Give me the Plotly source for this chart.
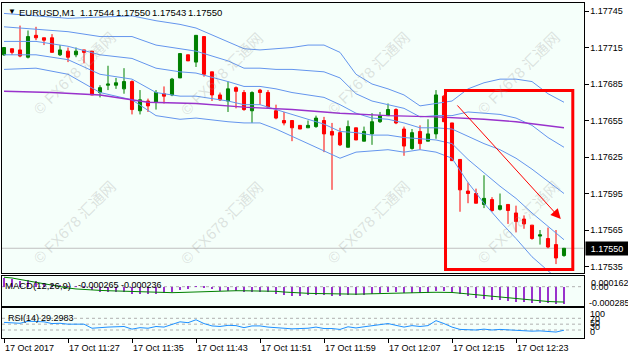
import plotly.graph_objects as go

# ---------------- data ----------------
idx = list(range(71))
open_ = [1.17709,1.17714,1.17713,1.17707,1.17725,1.17723,1.17723,1.17709,1.17712,1.17709,
         1.17713,1.17712,1.17678,1.17684,1.17684,1.17681,1.17687,1.17663,1.17671,1.17670,
         1.17677,1.17676,1.17690,1.17709,1.17703,1.17724,1.17695,1.17676,1.17671,1.17682,
         1.17678,1.17663,1.17680,1.17678,1.17663,1.17655,1.17655,1.17651,1.17649,1.17650,
         1.17655,1.17646,1.17645,1.17633,1.17649,1.17638,1.17644,1.17654,1.17659,1.17664,
         1.17648,1.17632,1.17646,1.17638,1.17644,1.17675,1.17653,1.17623,1.17597,1.17595,
         1.17586,1.17590,1.17582,1.17586,1.17579,1.17574,1.17569,1.17560,1.17558,1.17553,
         1.17544]
high = [1.17715,1.17714,1.17733,1.17729,1.17732,1.17723,1.17726,1.17717,1.17715,1.17715,
        1.17713,1.17712,1.17684,1.17700,1.17690,1.17698,1.17688,1.17680,1.17673,1.17680,
        1.17683,1.17690,1.17710,1.17709,1.17725,1.17724,1.17695,1.17678,1.17687,1.17683,
        1.17680,1.17679,1.17681,1.17680,1.17668,1.17662,1.17655,1.17651,1.17655,1.17659,
        1.17658,1.17653,1.17649,1.17655,1.17649,1.17650,1.17661,1.17662,1.17669,1.17665,
        1.17650,1.17648,1.17651,1.17656,1.17680,1.17676,1.17653,1.17623,1.17604,1.17599,
        1.17610,1.17592,1.17595,1.17586,1.17585,1.17577,1.17569,1.17565,1.17567,1.17565,
        1.17550]
low = [1.17708,1.17709,1.17707,1.17706,1.17721,1.17717,1.17711,1.17708,1.17703,1.17707,
       1.17702,1.17676,1.17674,1.17680,1.17681,1.17677,1.17660,1.17660,1.17662,1.17664,
       1.17669,1.17675,1.17690,1.17704,1.17699,1.17691,1.17671,1.17671,1.17662,1.17665,
       1.17663,1.17653,1.17668,1.17665,1.17656,1.17651,1.17638,1.17648,1.17649,1.17649,
       1.17629,1.17598,1.17634,1.17633,1.17639,1.17638,1.17635,1.17653,1.17659,1.17652,
       1.17626,1.17631,1.17631,1.17638,1.17640,1.17654,1.17622,1.17580,1.17587,1.17587,
       1.17583,1.17580,1.17581,1.17570,1.17563,1.17566,1.17557,1.17553,1.17550,1.17537,
       1.17543]
close = [1.17715,1.17711,1.17708,1.17724,1.17723,1.17721,1.17711,1.17713,1.17707,1.17712,
         1.17711,1.17676,1.17682,1.17685,1.17686,1.17687,1.17664,1.17672,1.17667,1.17678,
         1.17675,1.17689,1.17710,1.17704,1.17725,1.17693,1.17676,1.17672,1.17681,1.17679,
         1.17664,1.17678,1.17678,1.17666,1.17657,1.17653,1.17649,1.17648,1.17651,1.17657,
         1.17644,1.17643,1.17635,1.17650,1.17639,1.17646,1.17654,1.17659,1.17664,1.17653,
         1.17634,1.17645,1.17636,1.17644,1.17676,1.17654,1.17622,1.17598,1.17595,1.17587,
         1.17591,1.17581,1.17585,1.17581,1.17572,1.17570,1.17558,1.17561,1.17551,1.17542,
         1.17550]

# Bollinger bands (20) at selected bars
bb_idx = [0,4,8,12,16,19,22,24,28,30,32,34,36,38,40,42,44,46,48,50,52,54,56,58,60,62,64,66,68,70]
bb_up2 = [1.17743,1.17741,1.17739,1.17740,1.17741,1.17737,1.17734,1.17731,1.17720,1.17714,
          1.17713,1.17714,1.17715,1.17717,1.17717,1.17711,1.17693,1.17685,1.17681,1.17676,
          1.17667,1.17669,1.17671,1.17681,1.17686,1.17689,1.17689,1.17687,1.17677,1.17670]
bb_up1 = [1.17732,1.17730,1.17728,1.17724,1.17724,1.17717,1.17714,1.17712,1.17704,1.17698,
          1.17698,1.17697,1.17697,1.17696,1.17695,1.17690,1.17677,1.17671,1.17668,1.17665,
          1.17658,1.17659,1.17659,1.17662,1.17661,1.17660,1.17657,1.17651,1.17641,1.17633]
bb_mid = [1.17720,1.17720,1.17716,1.17709,1.17706,1.17698,1.17695,1.17694,1.17687,1.17683,
          1.17683,1.17681,1.17678,1.17676,1.17674,1.17668,1.17661,1.17657,1.17656,1.17653,
          1.17649,1.17649,1.17648,1.17642,1.17636,1.17631,1.17624,1.17615,1.17605,1.17595]
bb_lo1 = [1.17709,1.17709,1.17705,1.17693,1.17689,1.17678,1.17675,1.17675,1.17671,1.17668,
          1.17668,1.17664,1.17660,1.17656,1.17652,1.17646,1.17645,1.17643,1.17643,1.17641,
          1.17640,1.17639,1.17636,1.17623,1.17612,1.17601,1.17591,1.17579,1.17568,1.17557]
bb_lo2 = [1.17697,1.17698,1.17693,1.17678,1.17672,1.17659,1.17656,1.17657,1.17654,1.17653,
          1.17653,1.17648,1.17642,1.17636,1.17630,1.17624,1.17629,1.17630,1.17631,1.17629,
          1.17631,1.17629,1.17624,1.17604,1.17587,1.17572,1.17558,1.17543,1.17532,1.17520]

ma_idx = [0,6,12,18,24,30,36,42,48,54,60,64,70]
ma_val = [1.17679,1.17678,1.17676,1.17670,1.17669,1.17666,1.17664,1.17661,1.17659,1.17658,
          1.17656,1.17654,1.17649]

macd_main = [134,118,88,103,88,65,42,26,11,3,-5,-51,-74,-78,-82,-82,-112,-112,-112,-105,
             -97,-82,-43,-28,3,-12,-35,-58,-58,-58,-82,-74,-74,-82,-105,-120,-135,-135,-128,-120,
             -128,-135,-143,-128,-128,-120,-105,-89,-74,-74,-89,-97,-97,-97,-60,-62,-76,-112,-143,-166,
             -181,-197,-205,-212,-228,-235,-243,-243,-251,-258,-265]
macd_signal = [145,134,111,88,65,42,18,-2,-20,-35,-45,-51,-57,-62,-66,-71,-77,-82,-88,-92,
               -92,-92,-89,-85,-78,-71,-66,-63,-62,-62,-63,-63,-63,-65,-71,-82,-92,-97,-102,-105,
               -109,-112,-115,-117,-115,-112,-108,-103,-97,-94,-92,-91,-89,-88,-86,-86,-89,-100,-112,-125,
               -135,-143,-152,-166,-181,-198,-210,-220,-228,-233,-236]
rsi = [56,55,53,60,60,58,52,53,50,51,50,36,39,40,41,42,33,38,36,42,
       40,48,58,55,65,52,44,42,46,45,38,44,44,40,37,36,34,34,36,40,
       35,35,32,41,37,41,45,48,52,46,40,45,42,45,62,52,40,32,32,30,
       33,30,32,30,28,28,26,27,25,23,29.2983]
rsi_levels = [70, 50, 30]

price_ticks = [1.17535,1.17565,1.17595,1.17625,1.17655,1.17685,1.17715,1.17745]
time_idx = [0,8,16,24,32,40,48,56,64]
time_labels = ["17 Oct 2017","17 Oct 11:27","17 Oct 11:35","17 Oct 11:43","17 Oct 11:51",
               "17 Oct 11:59","17 Oct 12:07","17 Oct 12:15","17 Oct 12:23"]

# ---------------- layout helpers ----------------
W, H = 628, 353
def py(y):
    return 1 - y / H
def px(x):
    return x / W

FONT = "Liberation Sans, Arial, sans-serif"
BLUE = "#6495ED"
PURPLE = "#9932CC"

xr = [-0.25, -0.25 + 581.5 / 8]
# main price scale: 1.17745 at y=11, 36.5 px per 0.0003
def yprice(y):
    return 1.17745 - (y - 11) * 0.0003 / 36.5

fig = go.Figure()

fig.add_trace(go.Candlestick(
    x=idx, open=open_, high=high, low=low, close=close,
    increasing=dict(line=dict(color="#008000", width=1), fillcolor="#008000"),
    decreasing=dict(line=dict(color="#FF0000", width=1), fillcolor="#FF0000"),
    whiskerwidth=0, xaxis="x", yaxis="y", showlegend=False, hoverinfo="skip"))

for band in [bb_up2, bb_up1, bb_mid, bb_lo1, bb_lo2]:
    fig.add_trace(go.Scatter(x=bb_idx, y=band, mode="lines", line=dict(color=BLUE, width=1),
                             xaxis="x", yaxis="y", showlegend=False, hoverinfo="skip"))
fig.add_trace(go.Scatter(x=ma_idx, y=ma_val, mode="lines", line=dict(color=PURPLE, width=1.4),
                         xaxis="x", yaxis="y", showlegend=False, hoverinfo="skip"))

fig.add_trace(go.Bar(x=idx, y=[v * 1e-6 for v in macd_main], width=0.14,
                     marker=dict(color=PURPLE, line=dict(width=0)),
                     xaxis="x2", yaxis="y2", showlegend=False, hoverinfo="skip"))
fig.add_trace(go.Scatter(x=idx, y=[v * 1e-6 for v in macd_signal], mode="lines",
                         line=dict(color="#008000", width=1),
                         xaxis="x2", yaxis="y2", showlegend=False, hoverinfo="skip"))

fig.add_trace(go.Scatter(x=idx, y=rsi, mode="lines", line=dict(color="#1E90FF", width=1),
                         xaxis="x3", yaxis="y3", showlegend=False, hoverinfo="skip"))

shapes = []
# current price line
shapes.append(dict(type="line", xref="x domain", yref="y", x0=0, x1=1, y0=close[-1], y1=close[-1],
                   line=dict(color="#C0C0C0", width=1), layer="below"))
shapes.append(dict(type="line", xref="x2 domain", yref="y2", x0=0, x1=1, y0=0, y1=0,
                   line=dict(color="#B0B0B0", width=1, dash="dot"), layer="below"))
for lv in rsi_levels:
    shapes.append(dict(type="line", xref="x3 domain", yref="y3", x0=0, x1=1, y0=lv, y1=lv,
                       line=dict(color="#B0B0B0", width=1, dash="dot"), layer="below"))
# drawn red box
shapes.append(dict(type="rect", xref="x", yref="y", x0=55.19, x1=71.1, y0=1.175325, y1=1.176797,
                   line=dict(color="#FF0000", width=3)))

axis_common = dict(showgrid=False, zeroline=False, showline=True, mirror=True,
                   linecolor="black", linewidth=1)
fig.update_layout(
    width=W, height=H, margin=dict(l=0, r=0, t=0, b=0),
    paper_bgcolor="white", plot_bgcolor="#F5FFFA",
    font=dict(family=FONT, size=9, color="black"),
    showlegend=False, hovermode=False, boxgap=0.45, bargap=0,
    shapes=shapes,
    xaxis=dict(domain=[px(2), px(583.5)], range=xr, anchor="y", showticklabels=False,
               ticks="", rangeslider=dict(visible=False), **axis_common),
    xaxis2=dict(domain=[px(2), px(583.5)], range=xr, anchor="y2", matches="x",
                showticklabels=False, ticks="", **axis_common),
    xaxis3=dict(domain=[px(2), px(583.5)], range=xr, anchor="y3", matches="x",
                showticklabels=False, ticks="outside", ticklen=4, tickcolor="black",
                tickvals=time_idx, **axis_common),
    yaxis=dict(domain=[py(273), py(3)], range=[yprice(273), yprice(3)], anchor="x", side="right",
               tickvals=price_ticks, ticktext=["%.5f" % v for v in price_ticks],
               ticks="outside", ticklen=4, tickcolor="black", tickfont=dict(size=9), **axis_common),
    yaxis2=dict(domain=[py(306), py(275.7)], range=[-0.000297, 0.000169], anchor="x2", side="right",
                showticklabels=False, ticks="", **axis_common),
    yaxis3=dict(domain=[py(337.7), py(308.3)], range=[3.7, 104.2], anchor="x3", side="right",
                showticklabels=False, ticks="", **axis_common),
)

ann = []
def label(x, y, text, size=9, color="black", anchor="left", **kw):
    d = dict(x=px(x), y=py(y), xref="paper", yref="paper", text=text, showarrow=False,
             xanchor=anchor, yanchor="middle", font=dict(family=FONT, size=size, color=color))
    d.update(kw)
    ann.append(d)

# watermarks
for wy in [73, 222]:
    for wx in [74, 222, 368, 518]:
        ann.append(dict(x=px(wx), y=py(wy), xref="paper", yref="paper", text="© FX678 汇通网",
                        showarrow=False, textangle=-45, xanchor="center", yanchor="middle",
                        font=dict(family="Liberation Sans, Noto Sans CJK SC", size=15,
                                  color="rgba(150,150,150,0.28)")))

# title
label(6, 11.5, "▼", size=8)
label(17, 12, "EURUSD,M1", size=9.5)
for xx, tv in zip([78, 114, 150, 186], [open_[-1], high[-1], low[-1], close[-1]]):
    label(xx, 12, "%.5f" % tv, size=9.5)
# MACD label
label(3, 285, "MACD(12,26,9)", size=9.5)
label(76, 285, "%.6f" % (macd_main[-1] * 1e-6), size=9)
label(118.5, 285, "%.6f" % (macd_signal[-1] * 1e-6), size=9)
# RSI label
label(6, 317.5, "RSI(14)", size=9)
label(39, 317.5, "%.4f" % rsi[-1], size=9)
# sub-window scale labels
label(589, 283, "0.000162", size=9)
label(589, 287, "0.00", size=9)
label(587, 302.5, "-0.000285", size=9)
for yy, tt in zip([314, 318.5, 322.5, 326.5, 331.5], ["100", "70", "50", "30", "0"]):
    label(588, yy, tt, size=9)
# time labels
for ti, tl in zip(time_idx, time_labels):
    ann.append(dict(x=ti, y=py(347.5), xref="x3", yref="paper", text=tl, showarrow=False,
                    xanchor="left", yanchor="middle", xshift=-1,
                    font=dict(family=FONT, size=9, color="black")))
# current price box
ann.append(dict(x=px(585), y=close[-1], xref="paper", yref="y", text="%.5f" % close[-1],
                showarrow=False, xanchor="left", yanchor="middle", bgcolor="black",
                width=40, height=11, borderpad=1,
                font=dict(family=FONT, size=9, color="white")))
# drawn arrow
ann.append(dict(x=69.6, y=1.17574, ax=56.5, ay=1.176686, xref="x", yref="y", axref="x", ayref="y",
                text="", showarrow=True, arrowhead=2, arrowsize=2, arrowwidth=1,
                arrowcolor="#FF0000"))
fig.update_layout(annotations=ann)

fig.write_html("out.html")
